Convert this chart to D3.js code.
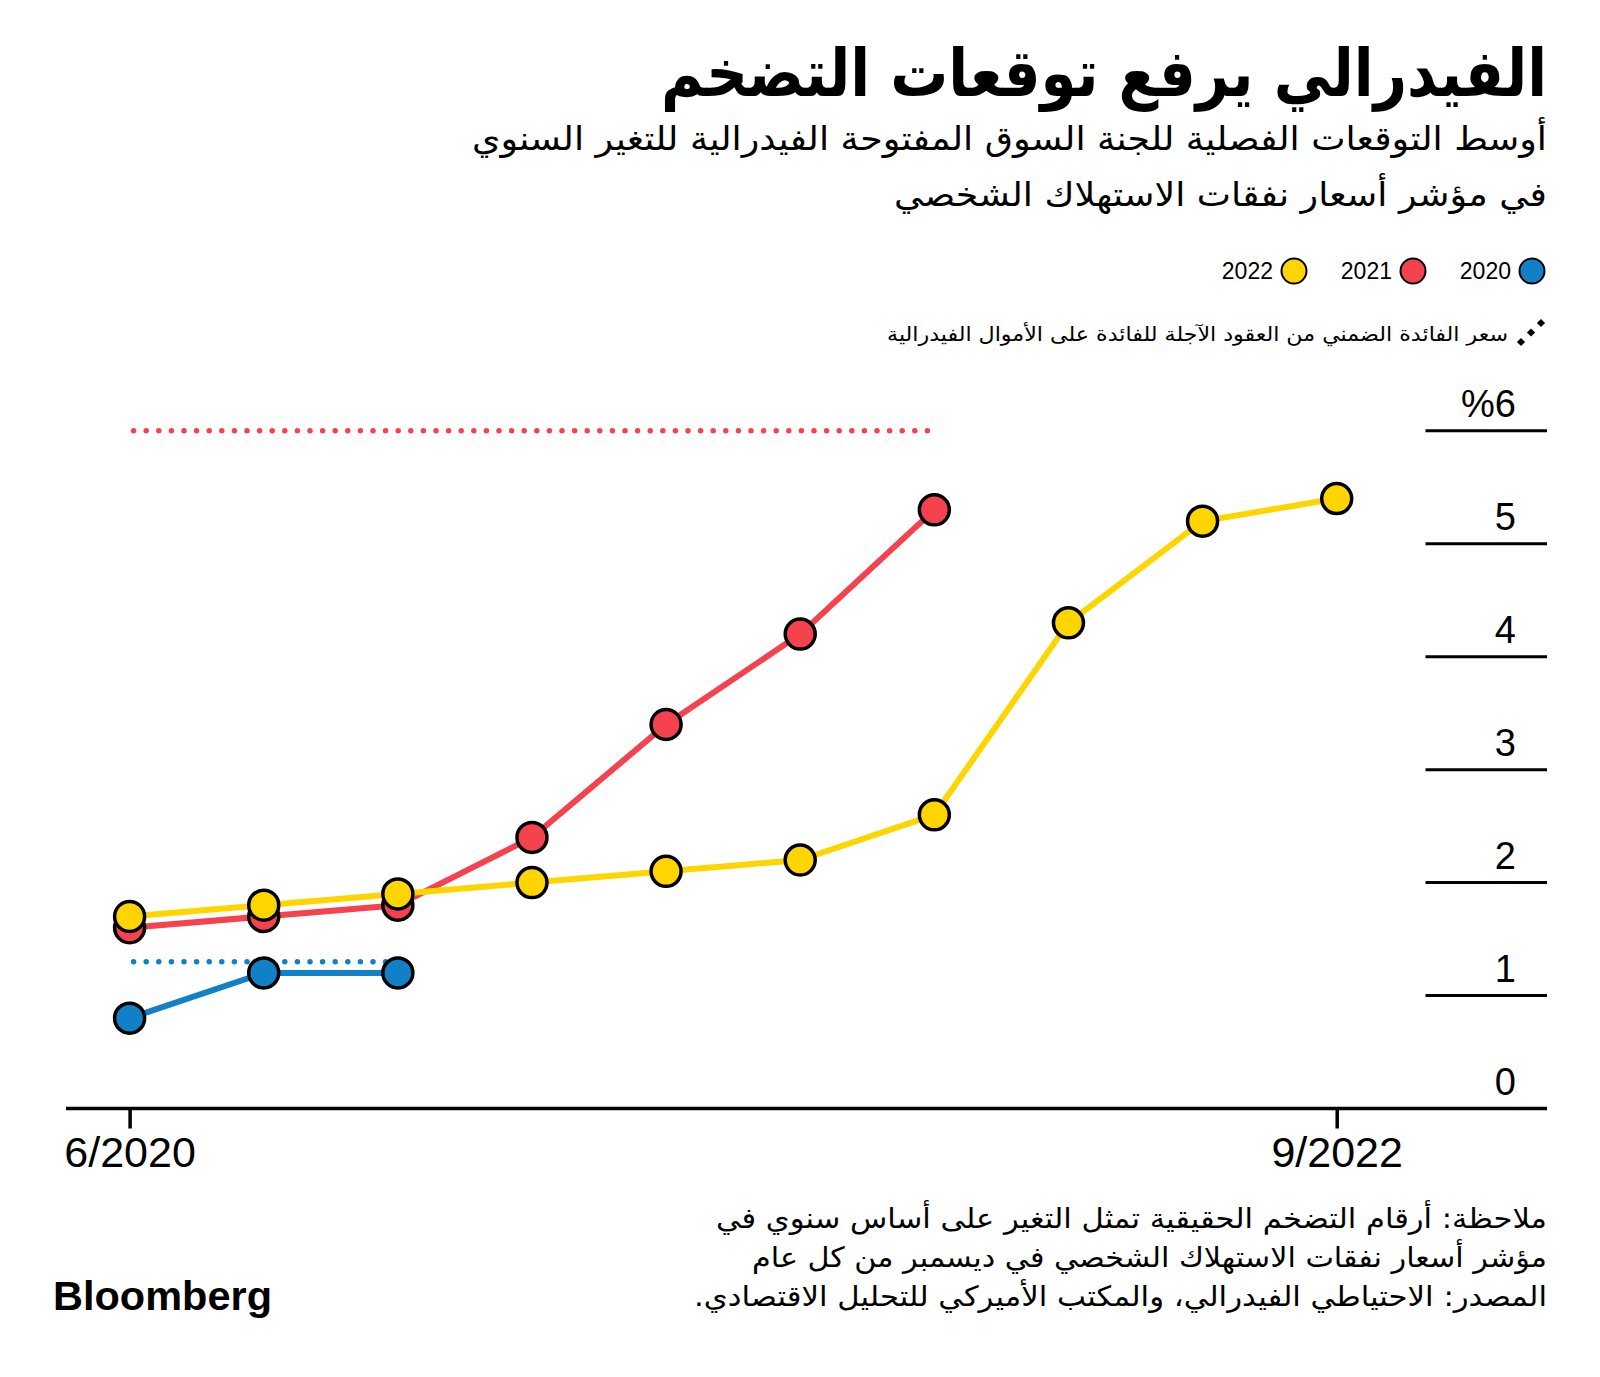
<!DOCTYPE html>
<html><head><meta charset="utf-8">
<script src="https://cdn.jsdelivr.net/npm/d3@7"></script>
<style>
html,body{margin:0;padding:0;background:#fff;}
svg{display:block;}
</style></head>
<body>
<svg id="chart" width="1600" height="1377"></svg>
<script>
// ---- data ----
const quarters = ["6/2020","9/2020","12/2020","3/2021","6/2021","9/2021","12/2021","3/2022","6/2022","9/2022"];
const xTickLabels = ["6/2020","9/2022"];
const years = ["2020","2021","2022"];
const median2020 = [0.8, 1.2, 1.2];
const median2021 = [1.6, 1.7, 1.8, 2.4, 3.4, 4.2, 5.3];
const median2022 = [1.7, 1.8, 1.9, 2.0, 2.1, 2.2, 2.6, 4.3, 5.2, 5.4];
const actualValues = [1.3, 6.0];          // dotted reference levels for 2020, 2021
const yTicks = [0, 1, 2, 3, 4, 5, 6];
const yTickLabels = ["0","1","2","3","4","5","%6"];

const title = "الفيدرالي يرفع توقعات التضخم";
const subtitle = ["أوسط التوقعات الفصلية للجنة السوق المفتوحة الفيدرالية للتغير السنوي",
                  "في مؤشر أسعار نفقات الاستهلاك الشخصي"];
const dottedLegend = "سعر الفائدة الضمني من العقود الآجلة للفائدة على الأموال الفيدرالية";
const notes = ["ملاحظة: أرقام التضخم الحقيقية تمثل التغير على أساس سنوي في",
               "مؤشر أسعار نفقات الاستهلاك الشخصي في ديسمبر من كل عام",
               "المصدر: الاحتياطي الفيدرالي، والمكتب الأميركي للتحليل الاقتصادي."];

const colors = {"2020":"#1180C6","2021":"#F5424F","2022":"#FFD500"};
const arFont = "'DejaVu Sans Condensed','DejaVu Sans',sans-serif";
const latFont = "'Liberation Sans',Arial,sans-serif";

const svg = d3.select("#chart");

// ---- scales ----
const x = d3.scalePoint().domain(quarters).range([129.6, 1336.7]);
const y = d3.scaleLinear().domain([0, 6]).range([1108.5, 430.8]);

// ---- header text ----
function arText(txt, xr, yb, size, weight, len) {
  const t = svg.append("text")
    .attr("x", xr).attr("y", yb)
    .attr("direction", "rtl")
    .attr("text-anchor", "start")
    .style("font-family", arFont)
    .style("font-size", size + "px")
    .style("font-weight", weight)
    .attr("fill", "#000")
    .text(txt);
  if (len) t.attr("textLength", len).attr("lengthAdjust", "spacingAndGlyphs");
  return t;
}
arText(title, 1547, 96, 66, 700, 886);
arText(subtitle[0], 1547, 150, 33, 400, 1075);
arText(subtitle[1], 1547, 206, 33, 400, 653);

// ---- legend ----
const legX = {"2020":1532, "2021":1413, "2022":1294};
years.forEach(yr => {
  svg.append("circle").attr("cx", legX[yr]).attr("cy", 271).attr("r", 12.5)
    .attr("fill", colors[yr]).attr("stroke", "#000").attr("stroke-width", 2);
  svg.append("text").attr("x", legX[yr] - 21).attr("y", 279)
    .attr("text-anchor", "end")
    .style("font-family", latFont).style("font-size", "23px")
    .text(yr);
});
// dotted legend symbol: three small diamonds on a diagonal
const legDots = [0, 1, 2];
svg.selectAll("path.legdot").data(legDots).join("path")
  .attr("class", "legdot")
  .attr("d", d3.symbol(d3.symbolSquare, 34))
  .attr("transform", d => `translate(${1521 + d * 10},${342 - d * 9.5}) rotate(45)`)
  .attr("fill", "#000");
arText(dottedLegend, 1508, 341, 20, 400, 621);

// ---- y gridlines & labels ----
const g = svg.append("g");
g.selectAll("line.grid").data(yTicks.filter(d => d > 0)).join("line")
  .attr("class", "grid")
  .attr("x1", 1425.5).attr("x2", 1547)
  .attr("y1", d => y(d)).attr("y2", d => y(d))
  .attr("stroke", "#000").attr("stroke-width", 3);
g.selectAll("text.ylab").data(yTicks).join("text")
  .attr("class", "ylab")
  .attr("x", 1516).attr("y", d => y(d) - 14)
  .attr("text-anchor", "end")
  .style("font-family", latFont).style("font-size", "38px")
  .text((d, i) => yTickLabels[i]);

// ---- x axis ----
const xAxis = d3.axisBottom(x).tickValues(xTickLabels).tickSize(20).tickPadding(8);
const ax = svg.append("g").attr("transform", `translate(0,${y(0)})`).call(xAxis);
ax.select(".domain").remove();
ax.selectAll(".tick line").attr("stroke", "#000").attr("stroke-width", 3.5);
ax.selectAll(".tick text").style("font-family", latFont).style("font-size", "43px").attr("fill", "#000");
svg.append("line").attr("x1", 66).attr("x2", 1547).attr("y1", y(0)).attr("y2", y(0))
  .attr("stroke", "#000").attr("stroke-width", 3.5);

// ---- dotted actual lines ----
const seriesData = [
  {year:"2020", vals: median2020},
  {year:"2021", vals: median2021},
  {year:"2022", vals: median2022}
];
seriesData.slice(0, 2).forEach((s, i) => {
  svg.append("line")
    .attr("x1", x(quarters[0]) + 4).attr("x2", x(quarters[s.vals.length - 1]))
    .attr("y1", y(actualValues[i])).attr("y2", y(actualValues[i]))
    .attr("stroke", colors[s.year]).attr("stroke-width", 5.5)
    .attr("stroke-linecap", "round").attr("stroke-dasharray", "0,12.6");
});

// ---- series lines and points ----
const line = d3.line().x((d, i) => x(quarters[i])).y(d => y(d));
seriesData.forEach(s => {
  const sg = svg.append("g");
  sg.append("path").datum(s.vals).attr("d", line)
    .attr("fill", "none").attr("stroke", colors[s.year]).attr("stroke-width", 6)
    .attr("stroke-linejoin", "round");
  sg.selectAll("circle").data(s.vals).join("circle")
    .attr("cx", (d, i) => x(quarters[i])).attr("cy", d => y(d))
    .attr("r", 15).attr("fill", colors[s.year])
    .attr("stroke", "#000").attr("stroke-width", 3.5);
});

// ---- notes ----
arText(notes[0], 1547, 1228, 28, 400, 831);
arText(notes[1], 1547, 1267, 28, 400, 795);
arText(notes[2], 1547, 1306, 28, 400, 853);

// ---- logo ----
svg.append("text").attr("x", 53).attr("y", 1310)
  .style("font-family", latFont).style("font-size", "41px").style("font-weight", 700)
  .attr("textLength", 219).attr("lengthAdjust", "spacingAndGlyphs")
  .text("Bloomberg");
</script>
</body></html>
